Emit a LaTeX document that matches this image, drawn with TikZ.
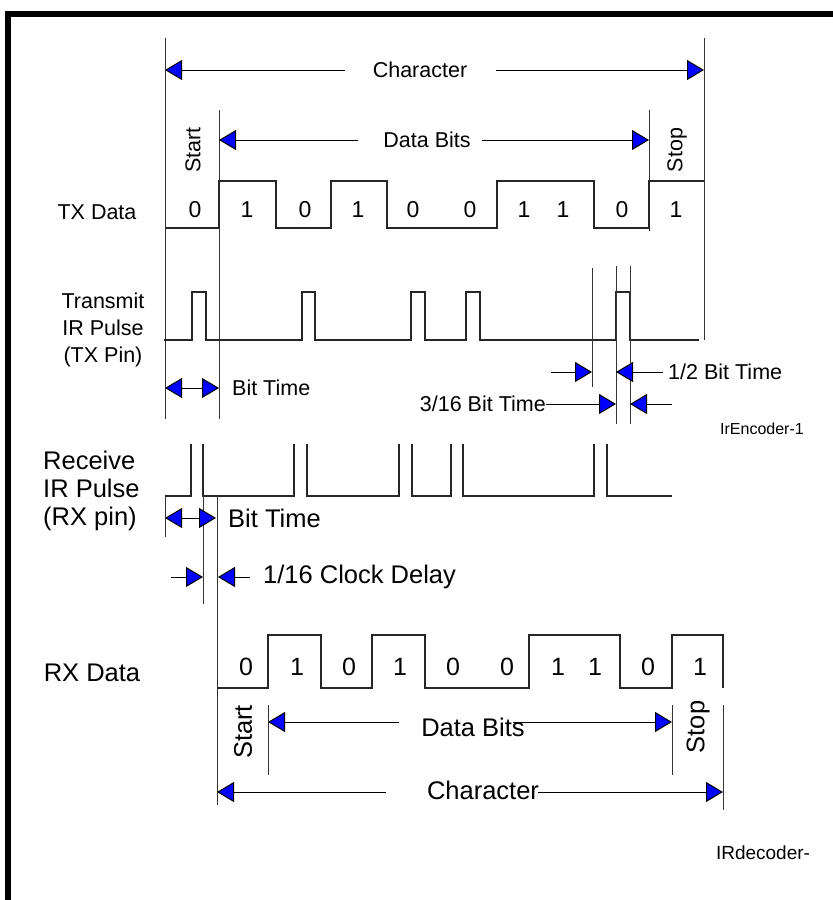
\documentclass[tikz,border=0pt]{standalone}
\usepackage{fontspec}
\setmainfont{Liberation Sans}
\usetikzlibrary{arrows.meta}
\begin{document}
\begin{tikzpicture}[x=1pt,y=-1pt,
  wave/.style={line width=1.1pt, draw=black!85},
  guide/.style={line width=1pt, draw=black!80},
  bt/.tip={Triangle[length=17pt,width=20pt,fill=blue]},
  tipr/.style={line width=1pt, draw=black, -bt},
  tipb/.style={line width=1pt, draw=black, bt-bt},
  lblA/.style={inner sep=0pt, font=\fontsize{21.5}{27}\selectfont},
  lblB/.style={inner sep=0pt, font=\fontsize{25.5}{28}\selectfont},
  digA/.style={inner sep=0pt, font=\fontsize{23}{25}\selectfont},
  digB/.style={inner sep=0pt, font=\fontsize{25}{28}\selectfont},
  small/.style={inner sep=0pt, font=\fontsize{16}{20}\selectfont}
]
\useasboundingbox (0,0) rectangle (833,900);
% frame
\draw[line width=6pt] (8,900) -- (8,14) -- (833,14);

% ===== top: character / data bits =====
\draw[guide] (165,38) -- (165,419);
\draw[guide] (704,38) -- (704,340);
\node[lblA] (char1) at (420,70) {Character};
\draw[tipr] (345,70) -- (165,70);
\draw[tipr] (496,70) -- (704,70);

\draw[guide] (219,110) -- (219,419);
\draw[guide] (649,110) -- (649,231);
\node[lblA] (data1) at (427,140) {Data Bits};
\draw[tipr] (358,140) -- (219,140);
\draw[tipr] (482,140) -- (649,140);
\node[lblA, rotate=90] (start1) at (193,150) {Start};
\node[lblA, rotate=90] (stop1) at (677,150) {Stop};

% TX data
\node[lblA] (txd) at (97,212) {TX Data};
\draw[wave] (165,228) -- (219,228) -- (219,181) -- (276,181) -- (276,228) -- (331,228) -- (331,181) -- (387,181) -- (387,228) -- (497,228) -- (497,181) -- (594,181) -- (594,228) -- (649,228) -- (649,181) -- (704,181);
\foreach \x/\b [count=\i] in {195/0,247/1,305/0,358/1,413/0,470/0,524/1,563/1,622/0,676/1}
  \node[digA] (tb\i) at (\x,210) {\b};

% Transmit IR pulse
\node[lblA, align=center] (txp) at (103,330) {Transmit\\IR Pulse\\(TX Pin)};
\draw[wave] (164,340) -- (192,340) -- (192,292) -- (206,292) -- (206,340) -- (302,340) -- (302,292) -- (315,292) -- (315,340) -- (411,340) -- (411,292) -- (425,292) -- (425,340) -- (466,340) -- (466,292) -- (480,292) -- (480,340) -- (616,340) -- (616,292) -- (630,292) -- (630,340) -- (699,340);
\draw[guide] (592,268) -- (592,387);
\draw[guide] (616,266) -- (616,424);
\draw[guide] (630,266) -- (630,424);
\draw[tipr] (551,372) -- (592,372);
\draw[tipr] (663,372) -- (616,372);
\node[lblA, anchor=west] (half) at (668,372) {1/2 Bit Time};
\node[lblA, anchor=east] (three) at (546,404) {3/16 Bit Time};
\draw[tipr] (three.east) -- (616,404);
\draw[tipr] (672,404) -- (630,404);
\draw[tipb] (165,388) -- (219,388);
\node[lblA, anchor=west] (bt1) at (232,388) {Bit Time};
\node[small] (enc) at (762,429) {IrEncoder-1};

% ===== receive IR pulse =====
\node[lblB, align=left, anchor=west] (rxp) at (43,491) {Receive\\IR Pulse\\(RX pin)};
\draw[wave] (165,496) -- (191,496) -- (191,444);
\draw[wave] (203,444) -- (203,496) -- (294,496) -- (294,444);
\draw[wave] (307,444) -- (307,496) -- (399,496) -- (399,444);
\draw[wave] (412,444) -- (412,496) -- (451,496) -- (451,444);
\draw[wave] (463,444) -- (463,496) -- (594,496) -- (594,444);
\draw[wave] (607,444) -- (607,496) -- (672,496);
\draw[guide] (203,496) -- (203,604);
\draw[guide] (165,497) -- (165,537);
\draw[guide] (217,497) -- (217,805);
\draw[tipb] (165,518) -- (216,518);
\node[lblB, anchor=west] (bt2) at (228,518) {Bit Time};
\draw[tipr] (171,577) -- (203,577);
\draw[tipr] (250,577) -- (218,577);
\node[lblB, anchor=west] (clk) at (263,577) {1/16 Clock Delay};

% ===== RX data =====
\node[lblB] (rxd) at (92,673) {RX Data};
\draw[wave] (217,688) -- (268,688) -- (268,635) -- (321,635) -- (321,688) -- (372,688) -- (372,635) -- (425,635) -- (425,688) -- (529,688) -- (529,635) -- (620,635) -- (620,688) -- (672,688) -- (672,635) -- (723,635) -- (723,688);
\foreach \x/\b [count=\i] in {246/0,297/1,349/0,400/1,453/0,507/0,558/1,595/1,648/0,700/1}
  \node[digB] (rb\i) at (\x,667) {\b};

\draw[guide] (268,705) -- (268,775);
\draw[guide] (672,705) -- (672,775);
\draw[guide] (723,705) -- (723,810);
\node[lblB] (data2) at (473,727) {Data Bits};
\draw[tipr] (399,722) -- (268,722);
\draw[tipr] (513,722) -- (672,722);
\node[lblB, rotate=90] (start2) at (243,732) {Start};
\node[lblB, rotate=90] (stop2) at (698,727) {Stop};
\node[lblB] (char2) at (483,790) {Character};
\draw[tipr] (386,792) -- (217,792);
\draw[tipr] (538,792) -- (723,792);
\node[inner sep=0pt, font=\fontsize{19}{22}\selectfont] (dec) at (763,853) {IRdecoder-};
\end{tikzpicture}
\end{document}
